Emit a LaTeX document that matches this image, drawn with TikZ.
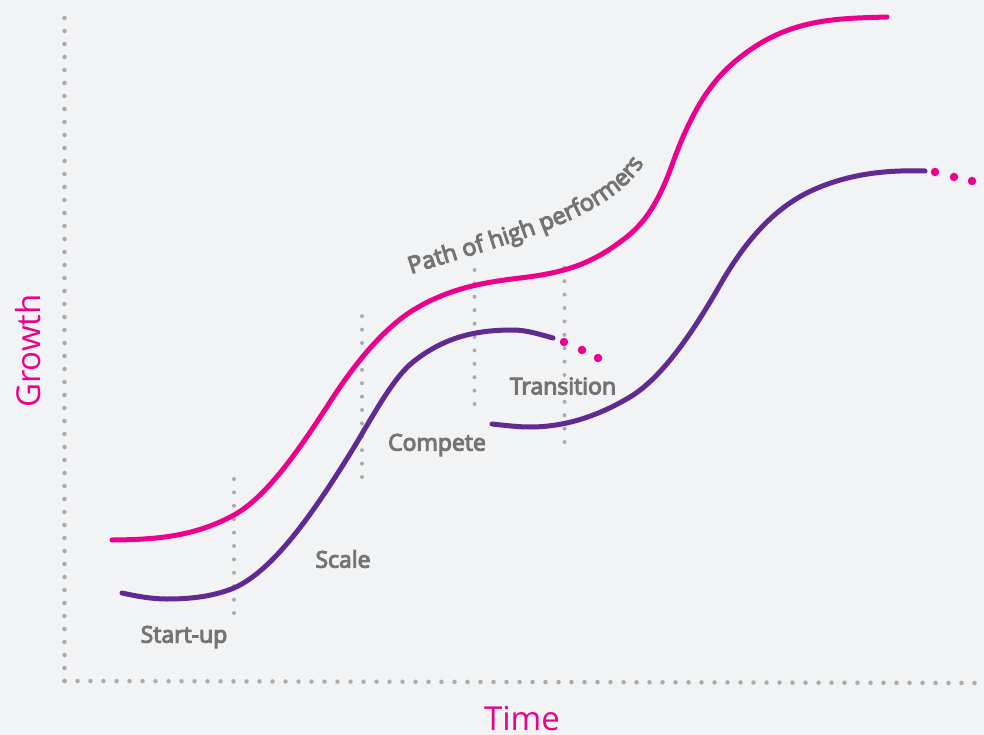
\documentclass[tikz,border=0pt]{standalone}
\usepackage{fontspec}
\setmainfont{Open Sans}
\newfontfamily\sbfont{Open Sans}[FakeBold=4.5]
\usetikzlibrary{decorations.text}
\definecolor{bgc}{HTML}{F2F3F5}
\definecolor{pinkc}{HTML}{EC008C}
\definecolor{purp}{HTML}{602A92}
\definecolor{txtg}{HTML}{747474}
\definecolor{dotg}{HTML}{ABABAB}
\begin{document}
\begin{tikzpicture}[x=1pt,y=-1pt,
  axisdots/.style={dotg, line width=4.5pt, line cap=round, dash pattern=on 0pt off 13pt},
  guide/.style={dotg, line width=4pt, line cap=round, dash pattern=on 0pt off 13.4pt},
  curve/.style={line width=5pt, line cap=round},
  lbl/.style={txtg, font=\sbfont\fontsize{23}{28}\selectfont, inner sep=0pt},
  axlbl/.style={pinkc, font=\fontsize{33}{40}\selectfont, inner sep=0pt},
  pdot/.style={fill=pinkc, circle, inner sep=0pt, minimum size=8.5pt}]
\fill[bgc] (0,0) rectangle (984,735);
\useasboundingbox (0,0) rectangle (984,735);
% axes
\coordinate (origin) at (64.5,681);
\coordinate (ytop) at (64.5,15);
\coordinate (xend) at (978,683);
\draw[axisdots] (origin) -- (ytop);
\draw[axisdots] (origin) -- (xend);
% guides
\coordinate (g1a) at (234,613); \coordinate (g1b) at (234,477);
\coordinate (g2a) at (362,477); \coordinate (g2b) at (362,307);
\coordinate (g3a) at (474.5,404); \coordinate (g3b) at (474.5,268);
\coordinate (g4a) at (564.5,442); \coordinate (g4b) at (564.5,255);
\draw[guide] (g1a) -- (g1b);
\draw[guide] (g2a) -- (g2b);
\draw[guide] (g3a) -- (g3b);
\draw[guide] (g4a) -- (g4b);
% pink curve
\coordinate (k0) at (112,540); \coordinate (k1) at (234,515); \coordinate (k2) at (330,402);
\coordinate (k3) at (415,309); \coordinate (k4) at (520,278); \coordinate (k5) at (613,247);
\coordinate (k6) at (672,165); \coordinate (k7) at (750,50);  \coordinate (k8) at (887,17);
\draw[curve, pinkc] (k0) .. controls (152.7,539.6) and (193.3,537.4) .. (k1)
  .. controls (266,497.4) and (298,451.6) .. (k2)
  .. controls (358.3,358.1) and (386.7,326) .. (k3)
  .. controls (450,288) and (485,282.2) .. (k4)
  .. controls (551,274.3) and (582,268.7) .. (k5)
  .. controls (632.7,233.2) and (652.3,220.1) .. (k6)
  .. controls (698,92.2) and (724,68.2) .. (k7)
  .. controls (795.7,18) and (841.3,18.4) .. (k8);
% purple curve 1
\coordinate (q0) at (122,593); \coordinate (q1) at (167,599); \coordinate (q2) at (234,588);
\coordinate (q3) at (348,457); \coordinate (q4) at (413,362); \coordinate (q5) at (513,330);
\coordinate (q6) at (553,338);
\draw[curve, purp] (q0) .. controls (137,596.3) and (152,599) .. (q1)
  .. controls (189.3,599) and (211.7,596.9) .. (q2)
  .. controls (272,571) and (310,517.8) .. (q3)
  .. controls (369.7,422.3) and (391.3,379.3) .. (q4)
  .. controls (446.3,335.3) and (479.7,330) .. (q5)
  .. controls (526.3,330) and (539.7,334.3) .. (q6);
% purple curve 2
\coordinate (r0) at (492,424); \coordinate (r1) at (530,427); \coordinate (r2) at (630,397);
\coordinate (r3) at (720,285); \coordinate (r4) at (813,190); \coordinate (r5) at (925,171);
\draw[curve, purp] (r0) .. controls (504.7,425.3) and (517.3,427) .. (r1)
  .. controls (563.3,427) and (596.7,417) .. (r2)
  .. controls (660,379) and (690,337.5) .. (r3)
  .. controls (751,230.75) and (782,203.95) .. (r4)
  .. controls (850.3,173.2) and (887.7,169.9) .. (r5);
% dots
\node[pdot] (d1) at (564,342) {};
\node[pdot] (d2) at (582,350) {};
\node[pdot] (d3) at (598,358) {};
\node[pdot] (d4) at (935,172) {};
\node[pdot] (d5) at (954,177) {};
\node[pdot] (d6) at (972,181) {};
% labels
\node[lbl] (startup) at (184,637) {Start-up};
\node[lbl] (scale) at (343,559) {Scale};
\node[lbl] (compete) at (437,445) {Compete};
\node[lbl] (transition) at (563,386) {Transition};
\node[axlbl, rotate=90] (growth) at (28,351) {Growth};
\node[axlbl] (time) at (522,719) {Time};
\coordinate (ps) at (411,274);
\coordinate (pe) at (642,166);
\path[decorate, decoration={text along path, text align=left,
   text={|\sbfont\fontsize{23.5}{28}\selectfont\color{txtg}|Path of high performers}}]
   (ps) .. controls (500,245) and (605,222) .. (pe);
\end{tikzpicture}
\end{document}
